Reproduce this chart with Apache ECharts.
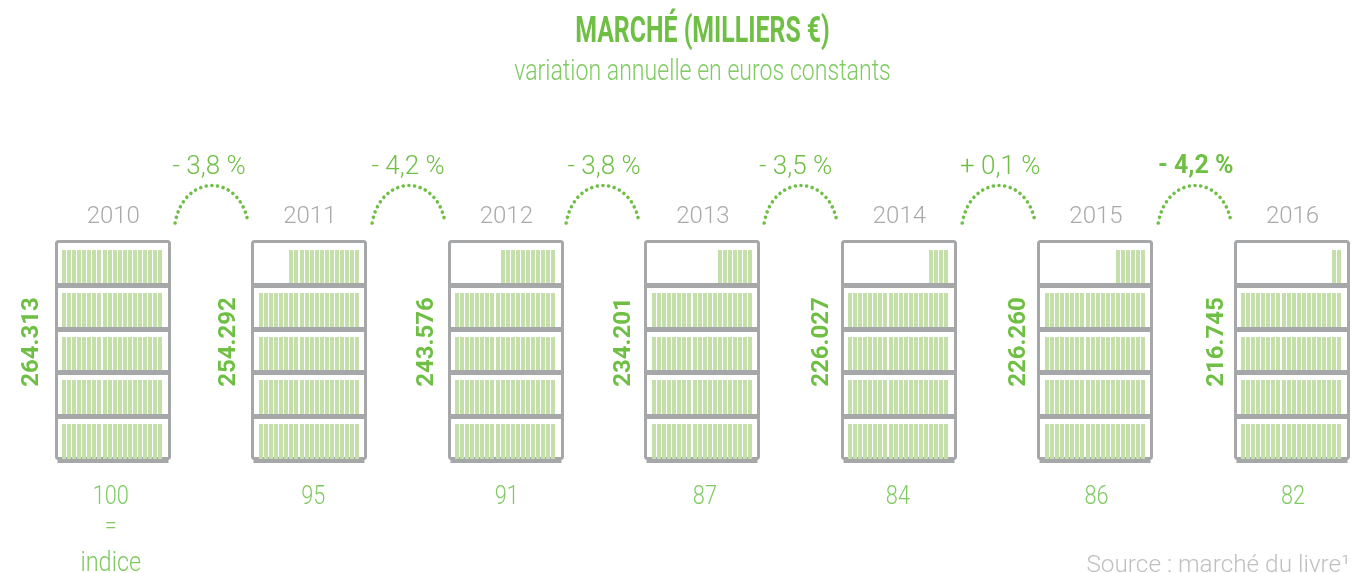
<!DOCTYPE html>
<html><head><meta charset="utf-8">
<style>html,body{margin:0;padding:0;background:#fff}#c{width:1352px;height:573px}</style>
<script src="https://cdn.jsdelivr.net/npm/echarts@6/dist/echarts.min.js"></script>
</head><body><div id="c"></div>
<script>
const years = ['2010','2011','2012','2013','2014','2015','2016'];
const marketValues = ['264.313','254.292','243.576','234.201','226.027','226.260','216.745'];
const indexValues = ['100\n=\nindice','95','91','87','84','86','82'];
const changes = ['- 3,8 %','- 4,2 %','- 3,8 %','- 3,5 %','+ 0,1 %','- 4,2 %'];
const boldChange = [false,false,false,false,false,true];
const topShelfBooks = [20,14,11,7,4,6,2];
const fullShelves = 4;
const booksPerShelf = 20;

// small layout nudges, in pixels, kept apart from the data
const indexNudge = [-2,4,1,2.5,-1,1,1];
const arcNudge = [1,1.5,-1,0.5,2,1.5];
const changeNudge = [-2,0.5,0,-5,3,2];

const GREEN='#6fbf45', LIGHT='#7fcb62', GREY='#a6a7a9', YEARGREY='#a9aaac', BOOK='#c5dfaa';
const LIGHTFONT='Roboto';

const shelfData=[];
years.forEach((y,i)=>{
  for(let s=0;s<fullShelves;s++) shelfData.push([i,s,booksPerShelf]);
  shelfData.push([i,fullShelves,topShelfBooks[i]]);
});

function renderBooks(params,api){
  const c=api.coord([api.value(0),api.value(1)]);
  const top=api.coord([api.value(0),api.value(1)+1]);
  const n=api.value(2), kids=[];
  const right=Math.round(c[0]+49.3), w=4;
  const t=Math.round(top[1])+10, b=Math.round(c[1])+(api.value(1)===0?2:0);
  for(let k=0;k<n;k++){
    // counted from the right end of the shelf; a slightly wider gap sits after 12 books
    const x=right-w-k*5-(k>=12?1:0);
    kids.push({type:'rect',shape:{x,y:t,width:w,height:b-t},style:{fill:BOOK}});
  }
  return {type:'group',children:kids};
}
function renderFrame(params,api){
  const i=api.value(0);
  const base=api.coord([i,0]), top=api.coord([i,5]);
  const cx=Math.round(base[0]), hw=56.5, kids=[];
  kids.push({type:'rect',shape:{x:cx-hw,y:top[1]+1.5,width:2*hw,height:base[1]-top[1],r:2},style:{fill:'none',stroke:GREY,lineWidth:3}});
  for(let s=1;s<5;s++){
    const y=Math.round(api.coord([i,s])[1]);
    kids.push({type:'rect',shape:{x:cx-hw,y:y,width:2*hw,height:5},style:{fill:GREY}});
  }
  kids.push({type:'rect',shape:{x:cx-hw+1,y:base[1],width:2*hw-2,height:6},style:{fill:GREY}});
  return {type:'group',children:kids};
}
function renderValue(params,api){
  const i=api.value(0);
  const b=api.coord([i,0]), m=api.coord([i,2.65]);
  return {type:'text',x:b[0]-81+i,y:m[1],rotation:Math.PI/2,
    style:{text:marketValues[i],fontFamily:'Roboto',fontWeight:700,fontSize:24,fill:GREEN,align:'center',verticalAlign:'middle'}};
}
function renderIndex(params,api){
  const i=api.value(0), b=api.coord([i,0]);
  const lines=indexValues[i].split('\n'), dy=[41,71,107];
  const kids=lines.map((t,k)=>({type:'text',x:b[0]+indexNudge[i],y:b[1]+dy[k],scaleX:.87,
    style:{text:t,fontFamily:LIGHTFONT,fontWeight:300,fontSize:k===2?27:25,fill:LIGHT,align:'center',verticalAlign:'middle'}}));
  return {type:'group',children:kids};
}
function renderArc(params,api){
  const i=api.value(0);
  const a=api.coord([i,5]), b=api.coord([i+1,5]);
  const mid=(a[0]+b[0])/2, cx=mid+arcNudge[i], y0=a[1]-17;
  const bold=boldChange[i];
  return {type:'group',children:[
    {type:'bezierCurve',shape:{x1:cx-37,y1:y0,cpx1:cx-28,cpy1:y0-50,cpx2:cx+28,cpy2:y0-50,x2:cx+36,y2:y0},
     style:{fill:'none',stroke:GREEN,lineWidth:3.6,lineCap:'round',lineDash:[0.01,5.7]}},
    {type:'text',x:mid+changeNudge[i],y:a[1]-73,style:{text:changes[i],fontFamily:LIGHTFONT,fontWeight:bold?700:300,fontSize:bold?25:26,fill:GREEN,align:'center',verticalAlign:'middle'}}
  ]};
}

const chart=echarts.init(document.getElementById('c'),null,{renderer:'canvas'});
const yearRows=years.map((y,i)=>[i]);
const custom=(render,data,z)=>({type:'custom',renderItem:render,data,z,clip:false,silent:true,animation:false,
  encode:{x:0,y:1},coordinateSystem:'cartesian2d'});
chart.setOption({
  animation:false,backgroundColor:'#fff',
  graphic:[
    {type:'text',x:702.5,y:33,scaleX:.69,style:{text:'MARCHÉ (MILLIERS €)',fontFamily:'Roboto',fontWeight:700,fontSize:36,fill:GREEN,align:'center',verticalAlign:'middle'}},
    {type:'text',x:702.5,y:72,scaleX:.77,style:{text:'variation annuelle en euros constants',fontFamily:LIGHTFONT,fontWeight:300,fontSize:30,fill:LIGHT,align:'center',verticalAlign:'middle'}},
    {type:'text',x:1350,y:566,scaleX:1.015,style:{text:'Source : marché du livre¹',fontFamily:LIGHTFONT,fontWeight:300,fontSize:24,fill:'#bfc0c2',align:'right',verticalAlign:'middle'}}
  ],
  grid:{left:112.8,right:60,top:240,bottom:116},
  xAxis:{type:'category',position:'top',boundaryGap:false,data:years,axisLine:{show:false},axisTick:{show:false},splitLine:{show:false},
    axisLabel:{show:true,interval:0,margin:11,padding:[0,0,0,1],fontFamily:LIGHTFONT,fontWeight:300,fontSize:24,color:YEARGREY}},
  yAxis:{type:'value',min:0,max:5,interval:1,show:false},
  series:[
    custom(renderFrame,yearRows,1),
    custom(renderBooks,shelfData,2),
    custom(renderValue,yearRows,3),
    custom(renderIndex,yearRows,3),
    custom(renderArc,changes.map((c,i)=>[i]),3)
  ]
});
</script></body></html>
